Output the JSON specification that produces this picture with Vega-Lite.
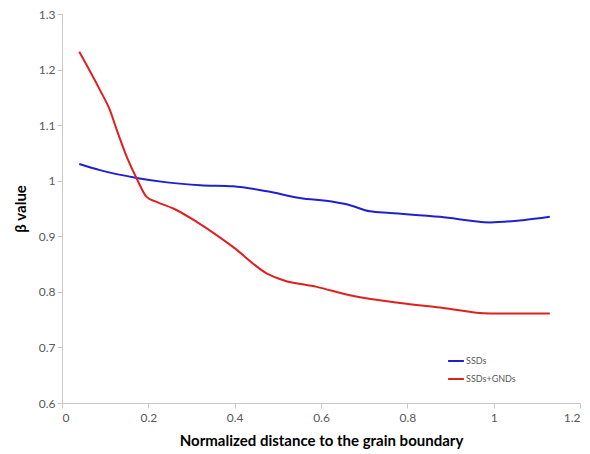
{
  "$schema": "https://vega.github.io/schema/vega-lite/v6.json",
  "autosize": "none",
  "padding": {"left": 62, "top": 14, "right": 10, "bottom": 51},
  "width": 518,
  "height": 389,
  "background": "white",
  "config": {
    "view": {"stroke": null},
    "font": "Lato",
    "axis": {
      "grid": false,
      "domainColor": "#c8c8c8",
      "tickColor": "#c8c8c8",
      "labelColor": "#595959",
      "labelFontSize": 12,
      "titleColor": "#000000",
      "titleFontSize": 15,
      "titleFontWeight": "bold"
    }
  },
  "data": {
    "values": [
      {"x": 0.04, "y": 1.03, "s": "SSDs"},
      {"x": 0.088, "y": 1.019, "s": "SSDs"},
      {"x": 0.173, "y": 1.005, "s": "SSDs"},
      {"x": 0.243, "y": 0.997, "s": "SSDs"},
      {"x": 0.32, "y": 0.992, "s": "SSDs"},
      {"x": 0.396, "y": 0.99, "s": "SSDs"},
      {"x": 0.475, "y": 0.981, "s": "SSDs"},
      {"x": 0.551, "y": 0.969, "s": "SSDs"},
      {"x": 0.628, "y": 0.962, "s": "SSDs"},
      {"x": 0.667, "y": 0.956, "s": "SSDs"},
      {"x": 0.713, "y": 0.945, "s": "SSDs"},
      {"x": 0.76, "y": 0.942, "s": "SSDs"},
      {"x": 0.876, "y": 0.935, "s": "SSDs"},
      {"x": 0.991, "y": 0.925, "s": "SSDs"},
      {"x": 1.068, "y": 0.929, "s": "SSDs"},
      {"x": 1.13, "y": 0.935, "s": "SSDs"},
      {"x": 0.04, "y": 1.232, "s": "SSDs+GNDs"},
      {"x": 0.088, "y": 1.163, "s": "SSDs+GNDs"},
      {"x": 0.111, "y": 1.127, "s": "SSDs+GNDs"},
      {"x": 0.127, "y": 1.091, "s": "SSDs+GNDs"},
      {"x": 0.15, "y": 1.043, "s": "SSDs+GNDs"},
      {"x": 0.173, "y": 1.004, "s": "SSDs+GNDs"},
      {"x": 0.196, "y": 0.971, "s": "SSDs+GNDs"},
      {"x": 0.219, "y": 0.962, "s": "SSDs+GNDs"},
      {"x": 0.258, "y": 0.95, "s": "SSDs+GNDs"},
      {"x": 0.312, "y": 0.926, "s": "SSDs+GNDs"},
      {"x": 0.396, "y": 0.881, "s": "SSDs+GNDs"},
      {"x": 0.475, "y": 0.833, "s": "SSDs+GNDs"},
      {"x": 0.513, "y": 0.821, "s": "SSDs+GNDs"},
      {"x": 0.59, "y": 0.809, "s": "SSDs+GNDs"},
      {"x": 0.667, "y": 0.794, "s": "SSDs+GNDs"},
      {"x": 0.783, "y": 0.78, "s": "SSDs+GNDs"},
      {"x": 0.876, "y": 0.772, "s": "SSDs+GNDs"},
      {"x": 0.991, "y": 0.761, "s": "SSDs+GNDs"},
      {"x": 1.13, "y": 0.761, "s": "SSDs+GNDs"}
    ]
  },
  "mark": {"type": "line", "interpolate": "monotone", "strokeWidth": 2},
  "encoding": {
    "x": {
      "field": "x", "type": "quantitative",
      "scale": {"domain": [0, 1.2], "nice": false},
      "axis": {"values": [0, 0.2, 0.4, 0.6, 0.8, 1, 1.2], "format": ".1~f", "title": "Normalized distance to the grain boundary", "titlePadding": 10, "labelPadding": 4}
    },
    "y": {
      "field": "y", "type": "quantitative",
      "scale": {"domain": [0.6, 1.3], "nice": false, "zero": false},
      "axis": {"values": [0.6, 0.7, 0.8, 0.9, 1, 1.1, 1.2, 1.3], "format": ".1~f", "title": "β value", "titlePadding": 10}
    },
    "color": {
      "field": "s", "type": "nominal",
      "scale": {"domain": ["SSDs", "SSDs+GNDs"], "range": ["#2020d0", "#e02020"]},
      "legend": {
        "title": null,
        "orient": "none",
        "legendX": 385,
        "legendY": 338,
        "symbolType": "stroke",
        "symbolSize": 250,
        "symbolStrokeWidth": 2,
        "labelFontSize": 9,
        "labelColor": "#595959",
        "rowPadding": 4,
        "labelOffset": 1
      }
    }
  }
}
